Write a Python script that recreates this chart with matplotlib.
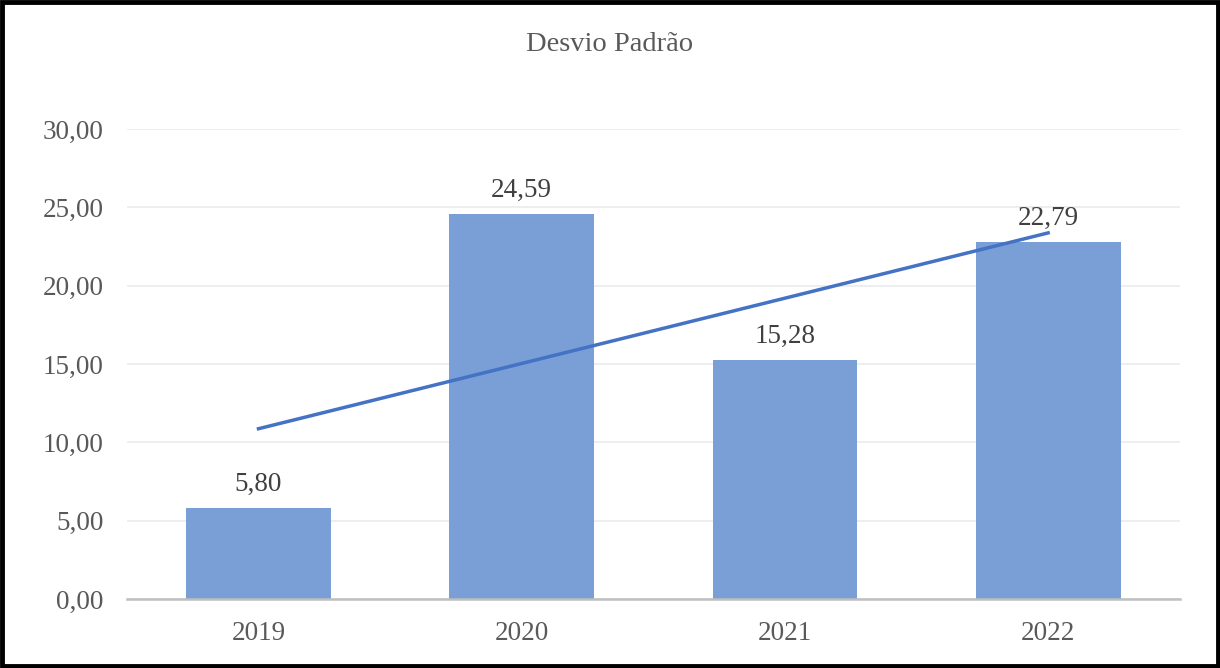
import numpy as np
import matplotlib
matplotlib.use('Agg')
import matplotlib.pyplot as plt
from matplotlib.patches import Rectangle

years = ['2019', '2020', '2021', '2022']
desvio = [5.80, 24.59, 15.28, 22.79]
yticks = [0, 5, 10, 15, 20, 25, 30]

plt.rcParams['font.family'] = ['Liberation Serif', 'DejaVu Serif']

fig = plt.figure(figsize=(12.2, 6.68), dpi=100)
ax = fig.add_axes([0.104, 0.1033, 0.863, 0.7037])

x = np.arange(len(years))
# Bars
ax.bar(x, desvio, width=0.55, color='#7A9ED6', zorder=2)

# Linear trend line (like Excel's trendline)
coef = np.polyfit(x, desvio, 1)
ax.plot(x, np.polyval(coef, x), color='#4472C4', linewidth=2.5, zorder=3)

# Data labels
for xi, v in zip(x, desvio):
    ax.text(xi, v + 0.7, f'{v:.2f}'.replace('.', ','), ha='center', va='bottom',
            fontsize=19.5, color='#404040')

ax.set_xlim(-0.5, 3.5)
ax.set_ylim(0, 30)
ax.set_xticks(x)
ax.set_xticklabels(years)
ax.set_yticks(yticks)
ax.set_yticklabels([f'{t:.2f}'.replace('.', ',') for t in yticks])
ax.tick_params(length=0, labelsize=19.5, labelcolor='#595959')
ax.tick_params(axis='x', pad=16)
ax.tick_params(axis='y', pad=17)

ax.grid(axis='y', color='#EBEBEB', linewidth=1.2, zorder=0)
ax.set_axisbelow(True)
for s in ['top', 'right', 'left']:
    ax.spines[s].set_visible(False)
ax.spines['bottom'].set_color('#BFBFBF')
ax.spines['bottom'].set_linewidth(1.8)

fig.text(0.5, 0.933, 'Desvio Padrão', ha='center', va='center',
         fontsize=20.5, color='#595959')

# Black frame around the figure
fig.patches.append(Rectangle((0.002, 0.003), 0.996, 0.994, transform=fig.transFigure,
                             fill=False, edgecolor='black', linewidth=3.5))

plt.savefig('out.png', dpi=100)
plt.close()
